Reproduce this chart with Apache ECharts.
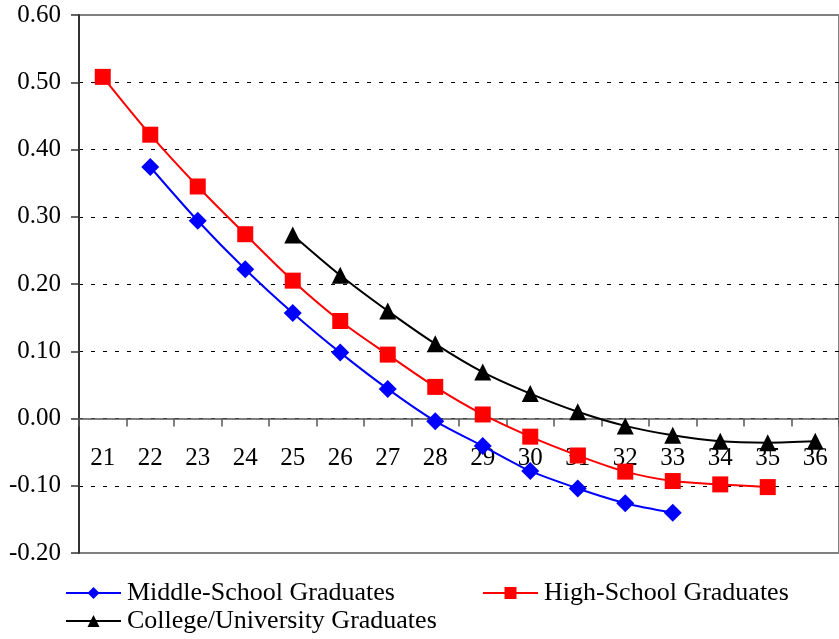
<!DOCTYPE html>
<html>
<head>
<meta charset="utf-8">
<script src="https://cdn.jsdelivr.net/npm/echarts@6/dist/echarts.min.js"></script>
<style>
html,body{margin:0;padding:0;background:#fff;}
#chart{width:839px;height:639px;}
</style>
</head>
<body>
<div id="chart"></div>
<script>
var categories = ['21','22','23','24','25','26','27','28','29','30','31','32','33','34','35','36'];
var middleSchool = [null, 0.374, 0.294, 0.222, 0.157, 0.098, 0.044, -0.004, -0.041, -0.078, -0.104, -0.126, -0.140, null, null, null];
var highSchool = [0.508, 0.422, 0.345, 0.274, 0.205, 0.145, 0.095, 0.047, 0.006, -0.027, -0.055, -0.079, -0.093, -0.098, -0.102, null];
var college = [null, null, null, null, 0.273, 0.213, 0.160, 0.111, 0.069, 0.037, 0.010, -0.011, -0.025, -0.034, -0.036, -0.034];
var names = ['Middle-School Graduates', 'High-School Graduates', 'College/University Graduates'];

var font = '"Liberation Serif", "Times New Roman", serif';
var chart = echarts.init(document.getElementById('chart'), null, {renderer: 'canvas'});
var legendBase = {
  orient: 'horizontal',
  itemWidth: 55,
  itemHeight: 15,
  itemGap: 0,
  padding: 0,
  textStyle: {fontFamily: font, fontSize: 26, color: '#000', padding: [0,0,0,1]},
  selectedMode: false
};
// grid: top 15 (0.60), bottom 553 (-0.20); zero line sits 2/8 of height above bottom
var gridTop = 15, gridBottomPx = 553;
var zeroOffset = -(gridBottomPx - gridTop) * 0.2 / 0.8;
chart.setOption({
  animation: false,
  backgroundColor: '#fff',
  grid: {left: 79, top: gridTop, right: -8, bottom: 639 - gridBottomPx, show: true, borderColor: '#808080', borderWidth: 2, backgroundColor: 'transparent'},
  legend: [
    Object.assign({}, legendBase, {data: [names[0]], left: 65, top: 580}),
    Object.assign({}, legendBase, {data: [names[1]], left: 482, top: 580}),
    Object.assign({}, legendBase, {data: [names[2]], left: 65, top: 608})
  ],
  xAxis: {
    type: 'category',
    data: categories,
    boundaryGap: true,
    position: 'bottom',
    offset: zeroOffset,
    axisLine: {onZero: false, lineStyle: {color: '#555', width: 1.5}},
    axisTick: {show: true, length: 8, lineStyle: {color: '#555', width: 1.5}},
    axisLabel: {fontFamily: font, fontSize: 25, color: '#000', margin: 27, interval: 0},
    splitLine: {show: false}
  },
  yAxis: {
    type: 'value',
    min: -0.2,
    max: 0.6,
    interval: 0.1,
    axisLine: {show: true, lineStyle: {color: '#333', width: 2}},
    axisTick: {show: true, length: 8, lineStyle: {color: '#333', width: 1.5}},
    axisLabel: {fontFamily: font, fontSize: 25, color: '#000', margin: 18,
      formatter: function (v) { return v.toFixed(2); }},
    splitLine: {show: true, showMinLine: false, showMaxLine: false, lineStyle: {color: '#000', width: 1, type: [4, 8]}}
  },
  series: [
    {name: names[0], type: 'line', data: middleSchool, smooth: 0.3,
      symbol: 'diamond', symbolSize: 18, color: '#0000ff',
      lineStyle: {color: '#0000ff', width: 2}, itemStyle: {color: '#0000ff'}},
    {name: names[1], type: 'line', data: highSchool, smooth: 0.3,
      symbol: 'rect', symbolSize: 16, color: '#ff0000',
      lineStyle: {color: '#ff0000', width: 2}, itemStyle: {color: '#ff0000'}},
    {name: names[2], type: 'line', data: college, smooth: 0.3,
      symbol: 'triangle', symbolSize: 17, color: '#000000',
      lineStyle: {color: '#000000', width: 2}, itemStyle: {color: '#000000'}}
  ]
});
</script>
</body>
</html>
